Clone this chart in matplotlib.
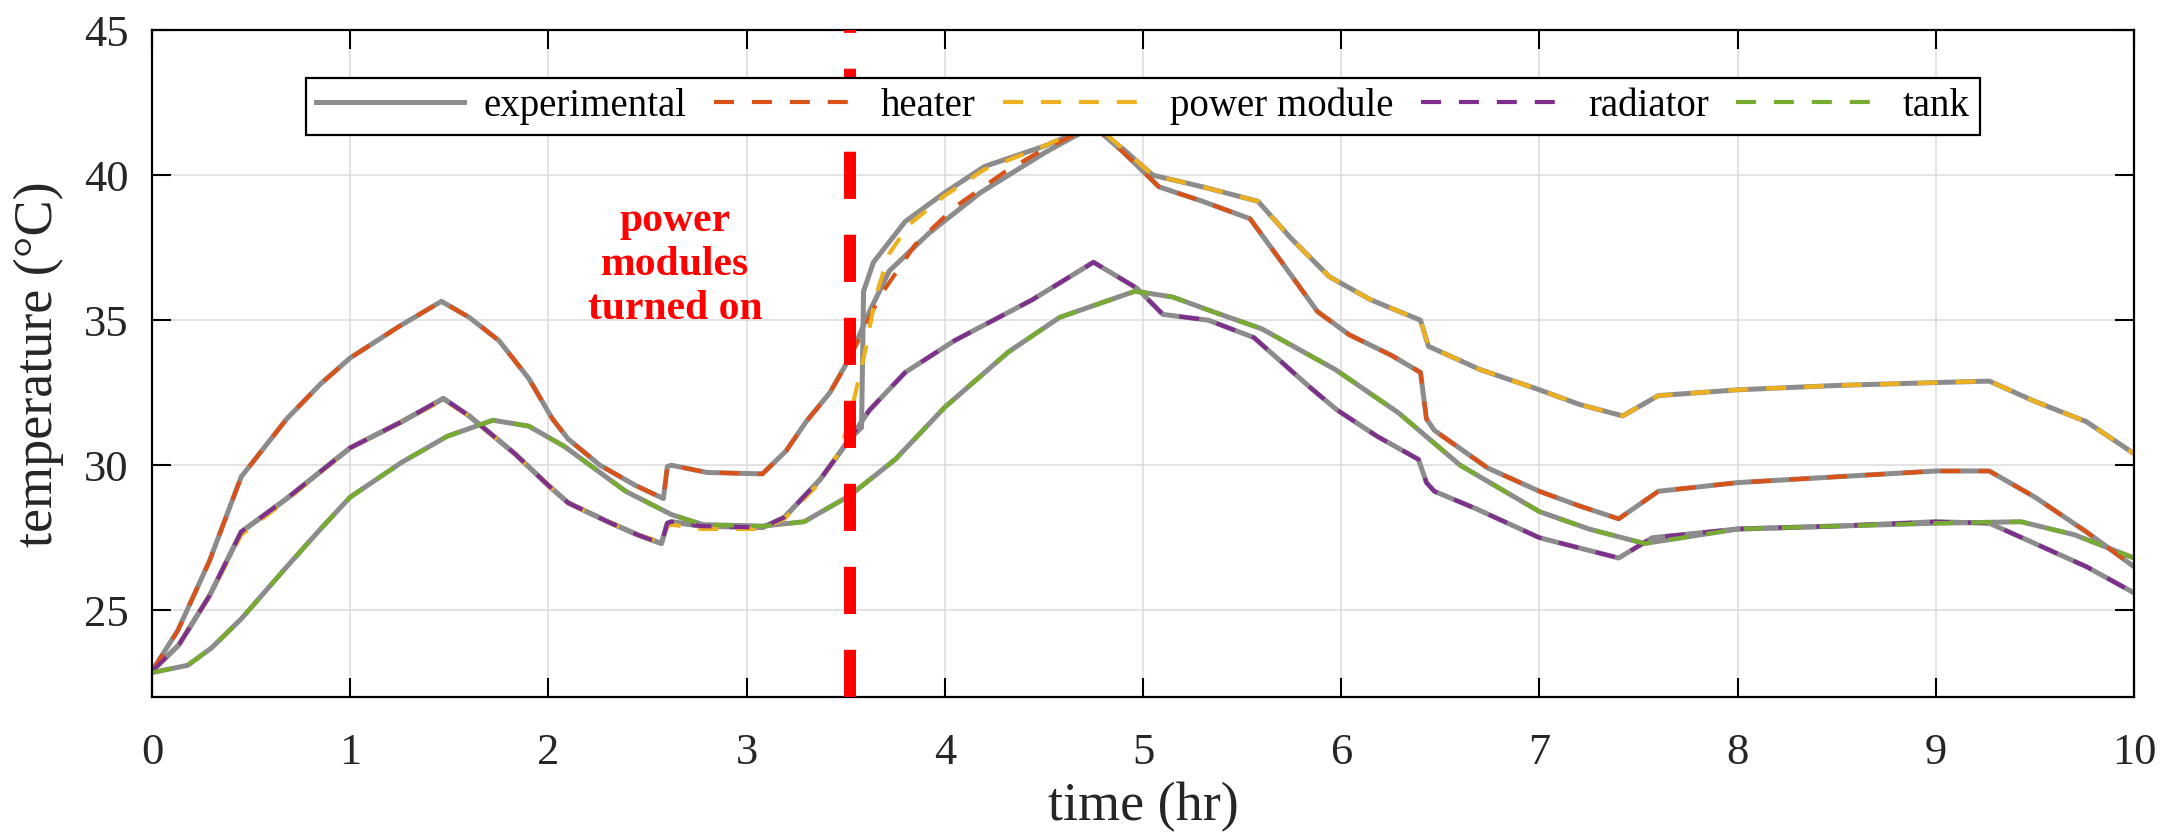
import matplotlib
matplotlib.use("Agg")
import matplotlib.pyplot as plt

plt.rcParams['font.family'] = ['Liberation Serif', 'DejaVu Serif']

# time (hr) / temperature (degC) readings, one pair of lists per curve
heater_t = [0.00, 0.13, 0.29, 0.45, 0.68, 0.85, 1.00, 1.25, 1.46, 1.60, 1.75, 1.90, 2.02, 2.10,
            2.26, 2.44, 2.58, 2.60, 2.62, 2.80, 3.08, 3.20, 3.30, 3.42, 3.52, 3.60, 3.67, 3.85,
            4.05, 4.30, 4.50, 4.75, 4.90, 5.08, 5.30, 5.54, 5.70, 5.88, 6.04, 6.25, 6.40, 6.43,
            6.47, 6.74, 7.00, 7.20, 7.40, 7.60, 8.00, 8.50, 9.00, 9.27, 9.50, 9.76, 10.0]
heater_T = [22.9, 24.3, 26.7, 29.6, 31.6, 32.8, 33.7, 34.8, 35.65, 35.1, 34.3, 33.0, 31.6, 30.9,
            30.0, 29.3, 28.85, 29.95, 30.0, 29.75, 29.7, 30.5, 31.5, 32.5, 33.7, 34.8, 35.8, 37.6,
            38.9, 40.1, 40.9, 41.7, 40.8, 39.6, 39.1, 38.5, 37.0, 35.3, 34.5, 33.8, 33.2, 31.6,
            31.2, 29.9, 29.1, 28.6, 28.15, 29.1, 29.4, 29.6, 29.8, 29.8, 28.9, 27.7, 26.5]

heater_exp_t = [0.00, 0.13, 0.29, 0.45, 0.68, 0.85, 1.00, 1.25, 1.46, 1.60, 1.75, 1.90, 2.02, 2.10,
                2.26, 2.44, 2.58, 2.60, 2.62, 2.80, 3.08, 3.20, 3.30, 3.42, 3.52, 3.62, 3.72, 3.92,
                4.18, 4.51, 4.75, 4.90, 5.08, 5.30, 5.54, 5.70, 5.88, 6.04, 6.25, 6.40, 6.43,
                6.47, 6.74, 7.00, 7.20, 7.40, 7.60, 8.00, 8.50, 9.00, 9.27, 9.50, 9.76, 10.0]
heater_exp_T = [22.9, 24.3, 26.7, 29.6, 31.6, 32.8, 33.7, 34.8, 35.65, 35.1, 34.3, 33.0, 31.6, 30.9,
                30.0, 29.3, 28.85, 29.95, 30.0, 29.75, 29.7, 30.5, 31.5, 32.5, 33.7, 35.3, 36.7, 38.0,
                39.4, 40.8, 41.7, 40.8, 39.6, 39.1, 38.5, 37.0, 35.3, 34.5, 33.8, 33.2, 31.6,
                31.2, 29.9, 29.1, 28.6, 28.15, 29.1, 29.4, 29.6, 29.8, 29.8, 28.9, 27.7, 26.5]

power_t = [0.00, 0.135, 0.29, 0.45, 0.68, 1.00, 1.26, 1.47, 1.60, 1.83, 2.00, 2.10, 2.30, 2.45,
           2.57, 2.60, 2.62, 2.77, 3.08, 3.19, 3.37, 3.48, 3.55, 3.60, 3.65, 3.72, 3.82, 4.00,
           4.20, 4.50, 4.75, 4.90, 5.05, 5.30, 5.58, 5.75, 5.94, 6.15, 6.40, 6.44, 6.70, 7.00,
           7.20, 7.42, 7.60, 8.00, 8.50, 9.00, 9.27, 9.50, 9.76, 10.0]
power_T = [22.9, 23.8, 25.5, 27.6, 28.8, 30.6, 31.5, 32.25, 31.7, 30.4, 29.3, 28.7, 28.05, 27.6,
           27.35, 27.9, 27.95, 27.8, 27.8, 28.15, 29.4, 30.6, 32.5, 34.0, 35.8, 37.3, 38.3, 39.3,
           40.2, 41.0, 41.8, 40.9, 40.0, 39.6, 39.1, 37.8, 36.5, 35.7, 35.0, 34.1, 33.3, 32.6,
           32.1, 31.7, 32.4, 32.6, 32.75, 32.85, 32.9, 32.2, 31.5, 30.4]

power_exp_t = [0.00, 0.135, 0.29, 0.45, 0.68, 1.00, 1.26, 1.47, 1.60, 1.83, 2.00, 2.10, 2.30, 2.45,
               2.57, 2.60, 2.62, 2.77, 3.08, 3.19, 3.37, 3.52, 3.58, 3.59, 3.64, 3.80, 4.00,
               4.20, 4.50, 4.75, 4.90, 5.05, 5.30, 5.58, 5.75, 5.94, 6.15, 6.40, 6.44, 6.70, 7.00,
               7.20, 7.42, 7.60, 8.00, 8.50, 9.00, 9.27, 9.50, 9.76, 10.0]
power_exp_T = [22.9, 23.8, 25.5, 27.7, 28.85, 30.6, 31.5, 32.3, 31.7, 30.4, 29.3, 28.7, 28.05, 27.6,
               27.3, 28.0, 28.05, 27.9, 27.85, 28.2, 29.5, 30.9, 31.3, 36.0, 37.0, 38.4, 39.4,
               40.3, 41.0, 41.7, 40.9, 40.0, 39.6, 39.1, 37.8, 36.5, 35.7, 35.0, 34.1, 33.3, 32.6,
               32.1, 31.7, 32.4, 32.6, 32.75, 32.85, 32.9, 32.2, 31.5, 30.4]

radiator_t = [0.00, 0.135, 0.29, 0.45, 0.68, 1.00, 1.26, 1.47, 1.60, 1.83, 2.00, 2.10, 2.30, 2.45,
              2.57, 2.60, 2.62, 2.77, 3.08, 3.19, 3.37, 3.52, 3.62, 3.80, 4.05, 4.44, 4.75, 4.97,
              5.10, 5.33, 5.56, 5.84, 5.98, 6.18, 6.39, 6.43, 6.47, 6.68, 7.00, 7.20, 7.40, 7.57,
              8.00, 8.50, 9.00, 9.27, 9.50, 9.76, 10.0]
radiator_T = [22.9, 23.8, 25.5, 27.7, 28.85, 30.6, 31.5, 32.3, 31.7, 30.4, 29.3, 28.7, 28.05, 27.6,
              27.3, 28.0, 28.05, 27.9, 27.85, 28.2, 29.5, 30.9, 31.9, 33.2, 34.3, 35.7, 37.0, 36.1,
              35.2, 35.0, 34.4, 32.7, 31.9, 31.0, 30.2, 29.4, 29.1, 28.5, 27.5, 27.15, 26.8, 27.5,
              27.8, 27.9, 28.05, 28.0, 27.3, 26.5, 25.6]

tank_t = [0.00, 0.18, 0.30, 0.45, 0.68, 0.85, 1.00, 1.26, 1.49, 1.72, 1.90, 2.08, 2.25, 2.39,
          2.62, 2.78, 3.08, 3.29, 3.52, 3.75, 4.00, 4.32, 4.58, 4.96, 5.15, 5.35, 5.60, 5.97,
          6.29, 6.60, 7.00, 7.25, 7.53, 8.00, 8.50, 9.00, 9.43, 9.70, 10.0]
tank_T = [22.85, 23.1, 23.7, 24.7, 26.5, 27.8, 28.9, 30.1, 31.0, 31.55, 31.35, 30.65, 29.8, 29.1,
          28.3, 27.95, 27.9, 28.05, 28.95, 30.2, 32.0, 33.9, 35.1, 36.0, 35.8, 35.3, 34.7, 33.3,
          31.8, 30.0, 28.4, 27.8, 27.3, 27.8, 27.9, 28.0, 28.05, 27.6, 26.8]

turn_on_time = 3.52

fig = plt.figure(figsize=(21.78, 8.39), dpi=100)
ax = fig.add_axes([0.0698, 0.169, 0.910, 0.795])

gray = '#8c8c8c'
ax.plot(heater_exp_t, heater_exp_T, '-', color=gray, lw=3.6, label='experimental')
ax.plot(power_exp_t, power_exp_T, '-', color=gray, lw=3.6)
ax.plot(radiator_t, radiator_T, '-', color=gray, lw=3.6)
ax.plot(tank_t, tank_T, '-', color=gray, lw=3.6)

dash = (4.8, 4.3)
ax.plot(heater_t, heater_T, '--', dashes=dash, color='#D95319', lw=3, label='heater')
ax.plot(power_t, power_T, '--', dashes=dash, color='#EDB120', lw=3, label='power module')
ax.plot(radiator_t, radiator_T, '--', dashes=dash, color='#7E2F8E', lw=3, label='radiator')
ax.plot(tank_t, tank_T, '--', dashes=dash, color='#77AC30', lw=3, label='tank')

ax.axvline(turn_on_time, color='red', lw=8.6, dashes=(3.95, 3.0), zorder=4)
ax.text(2.64, 36.9, 'power\nmodules\nturned on', color='red', fontsize=30,
        fontweight='bold', ha='center', va='center', linespacing=1.2)

ax.set_xlim(0, 10)
ax.set_ylim(22.0, 45)
ax.set_xticks(range(0, 11))
ax.set_yticks([25, 30, 35, 40, 45])
ax.grid(True, color='#dedede', lw=1.2)
ax.set_axisbelow(True)
ax.tick_params(direction='in', length=14, width=1.5, top=True, right=True,
               labelsize=32, labelcolor='#262626')
ax.tick_params(axis='x', pad=26)
ax.tick_params(axis='y', pad=17)
for s in ax.spines.values():
    s.set_linewidth(1.6)

ax.set_xlabel('time (hr)', fontsize=39, color='#262626', labelpad=6)
ax.set_ylabel('temperature (°C)', fontsize=39, color='#262626', labelpad=14)

leg = ax.legend(ncol=5, loc='upper center', bbox_to_anchor=(0.5, 0.958), fontsize=28,
                frameon=True, fancybox=False, edgecolor='black', framealpha=1,
                handlelength=3.8, columnspacing=0.7, handletextpad=0.5, borderpad=0.25)
leg.get_frame().set_linewidth(1.6)
leg.set_zorder(10)

fig.savefig('out.png', dpi=100)
